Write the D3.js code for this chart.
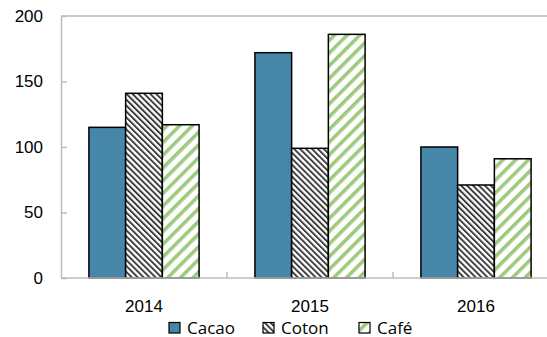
<!DOCTYPE html>
<html>
<head>
<meta charset="utf-8">
<script src="https://cdn.jsdelivr.net/npm/d3@7"></script>
<style>
  body { margin: 0; background: #fff; }
  svg { display: block; font-family: "Open Sans", sans-serif; }
</style>
</head>
<body>
<svg id="chart" width="547" height="337"></svg>
<script>
// data
const years = ['2014', '2015', '2016'];
const series = ['Cacao', 'Coton', 'Café'];
const cacao = [115, 172, 100];
const coton = [141, 99, 71];
const cafe = [117, 186, 91];
const yTicks = [0, 50, 100, 150, 200];

const values = [cacao, coton, cafe];

const svg = d3.select('#chart');
const plot = { left: 61, right: 559, top: 16, bottom: 278 };
const axisColor = '#bdbdbd';
const fontSize = '17px';

// patterns
const defs = svg.append('defs');
const hatch = defs.append('pattern')
  .attr('id', 'hatch-coton')
  .attr('patternUnits', 'userSpaceOnUse')
  .attr('width', 4.2).attr('height', 4.2)
  .attr('patternTransform', 'rotate(-45)');
hatch.append('rect').attr('width', 4.2).attr('height', 4.2).attr('fill', '#fff');
hatch.append('rect').attr('width', 1.9).attr('height', 4.2).attr('fill', '#3a3a3a');

const stripe = defs.append('pattern')
  .attr('id', 'hatch-cafe')
  .attr('patternUnits', 'userSpaceOnUse')
  .attr('width', 9).attr('height', 9)
  .attr('patternTransform', 'rotate(45)');
stripe.append('rect').attr('width', 9).attr('height', 9).attr('fill', '#fff');
stripe.append('rect').attr('width', 3.6).attr('height', 9).attr('fill', '#9dca7e');

const fills = ['#4686a9', 'url(#hatch-coton)', 'url(#hatch-cafe)'];

// scales
const x0 = d3.scaleBand().domain(years).range([plot.left, plot.right]).padding(0);
const x1 = d3.scaleBand().domain(series).range([0, x0.bandwidth()])
  .paddingInner(0).paddingOuter(0.76);
const y = d3.scaleLinear().domain([0, 200]).range([plot.bottom, plot.top]);

// top border
svg.append('line')
  .attr('x1', plot.left).attr('x2', 547)
  .attr('y1', y(200)).attr('y2', y(200))
  .attr('stroke', axisColor).attr('stroke-width', 1.5);

// y axis
const yAxis = svg.append('g')
  .attr('transform', `translate(${plot.left},0)`)
  .call(d3.axisLeft(y).tickValues(yTicks).tickSizeInner(-6).tickSizeOuter(0).tickPadding(18));
yAxis.select('.domain').attr('stroke', axisColor).attr('stroke-width', 1.5);
yAxis.selectAll('.tick line').attr('stroke', axisColor).attr('stroke-width', 1.5);
yAxis.selectAll('.tick text').attr('fill', '#000').style('font-size', fontSize);

// x axis labels
const xAxis = svg.append('g')
  .attr('transform', `translate(0,${plot.bottom})`)
  .call(d3.axisBottom(x0).tickSize(0).tickPadding(22));
xAxis.select('.domain').remove();
xAxis.selectAll('.tick text').attr('fill', '#000').style('font-size', fontSize);

// bars
years.forEach((yr, i) => {
  const g = svg.append('g').attr('transform', `translate(${x0(yr)},0)`);
  g.selectAll('rect')
    .data(series.map((s, j) => ({ s, j, v: values[j][i] })))
    .enter().append('rect')
    .attr('x', d => x1(d.s))
    .attr('y', d => y(d.v))
    .attr('width', x1.bandwidth())
    .attr('height', d => y(0) - y(d.v))
    .attr('fill', d => fills[d.j])
    .attr('stroke', '#000')
    .attr('stroke-width', 1.5);
});

// bottom axis line and category boundary ticks
svg.append('line')
  .attr('x1', plot.left).attr('x2', 547)
  .attr('y1', plot.bottom).attr('y2', plot.bottom)
  .attr('stroke', axisColor).attr('stroke-width', 1.5);
svg.selectAll('.xtick')
  .data(years.slice(1))
  .enter().append('line')
  .attr('x1', d => x0(d)).attr('x2', d => x0(d))
  .attr('y1', plot.bottom - 6).attr('y2', plot.bottom)
  .attr('stroke', axisColor).attr('stroke-width', 1.5);

// legend
const legendX = [169, 263, 359];
const legend = svg.append('g');
series.forEach((s, j) => {
  legend.append('rect')
    .attr('x', legendX[j]).attr('y', 322.5)
    .attr('width', 11).attr('height', 10.5)
    .attr('fill', fills[j])
    .attr('stroke', '#000').attr('stroke-width', 1.2);
  legend.append('text')
    .attr('x', legendX[j] + 18).attr('y', 333.5)
    .style('font-size', fontSize)
    .text(s);
});
</script>
</body>
</html>
